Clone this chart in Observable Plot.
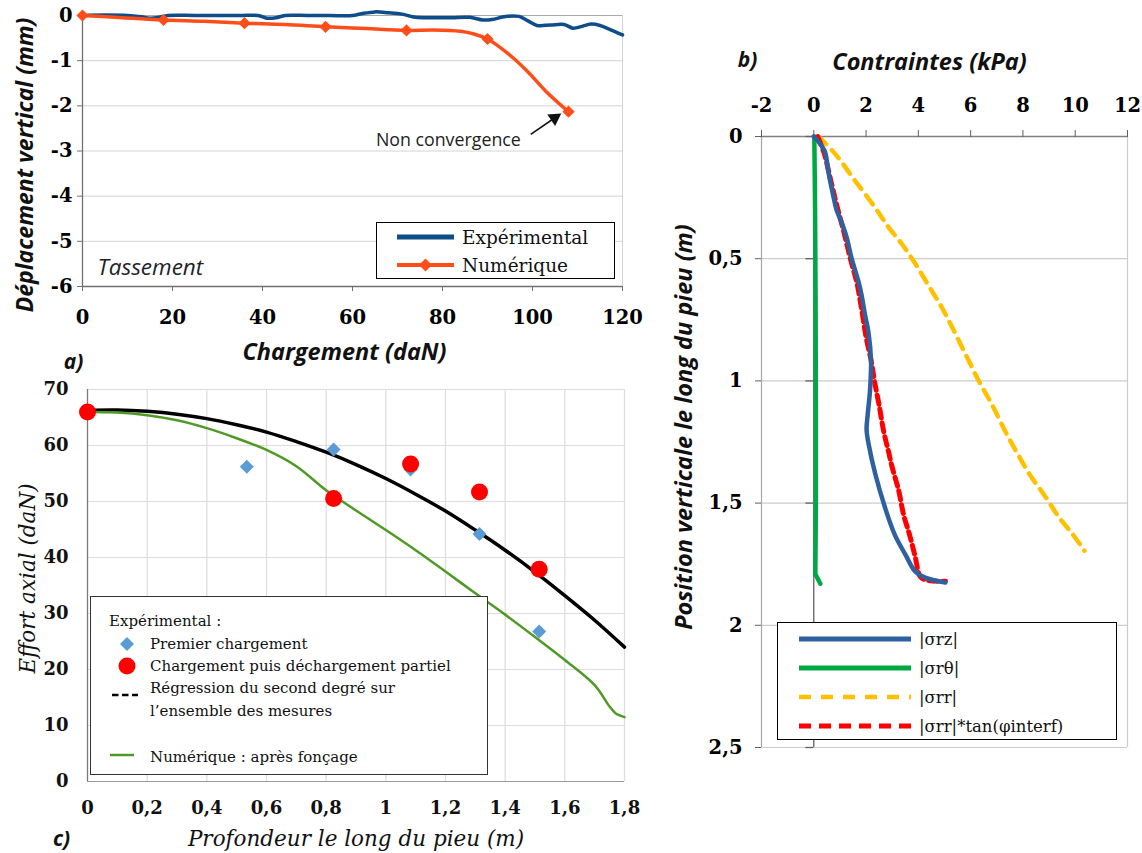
<!DOCTYPE html>
<html><head><meta charset="utf-8">
<script src="https://cdn.jsdelivr.net/npm/d3@7"></script>
<script src="https://cdn.jsdelivr.net/npm/@observablehq/plot@0.6"></script>
<style>
body{margin:0;background:#fff;}
#wrap{position:relative;width:1142px;height:853px;overflow:hidden;background:#fff;}
.lg{position:absolute;box-sizing:border-box;background:#fff;}
.lt{position:absolute;white-space:nowrap;line-height:1;transform:translateY(-50%);color:#111;}
.sw{position:absolute;overflow:visible;}
</style></head><body><div id="wrap"></div>
<script>
// ---------- Panel a : Tassement ----------
const aTicksX = [0, 20, 40, 60, 80, 100, 120];
const aTickLabelsX = ["0", "20", "40", "60", "80", "100", "120"];
const aTicksY = [0, -1, -2, -3, -4, -5, -6];
const aTickLabelsY = ["0", "-1", "-2", "-3", "-4", "-5", "-6"];
const expLoad = [0, 5, 10, 13, 15, 17, 19, 25, 30, 35, 39, 41, 43, 45, 50, 55, 60, 62, 65, 68, 71, 74, 78, 82, 86, 89, 91, 94, 97, 99, 101, 104, 107, 109, 111, 113, 115, 117, 120];
const expDisp = [0, 0.01, 0, -0.03, -0.06, -0.04, 0, 0, 0, 0, 0, -0.06, -0.05, 0, 0, 0, 0, 0.04, 0.08, 0.06, 0.03, -0.04, -0.05, -0.05, -0.04, -0.1, -0.09, -0.02, -0.02, -0.12, -0.22, -0.21, -0.2, -0.28, -0.24, -0.19, -0.22, -0.3, -0.43];
const numLoad = [0, 9, 18, 27, 36, 45, 54, 63, 72, 78, 84, 87, 90, 95, 99, 103, 108];
const numDisp = [0, -0.05, -0.1, -0.13, -0.17, -0.2, -0.25, -0.29, -0.33, -0.32, -0.35, -0.41, -0.52, -0.88, -1.25, -1.68, -2.13];
const numMarkLoad = [0, 18, 36, 54, 72, 90, 108];
const numMarkDisp = [0, -0.1, -0.17, -0.25, -0.33, -0.52, -2.13];
const aSeriesNames = ["Expérimental", "Numérique"];
const aNote = {x: 81.3, y: -2.77, text: "Non convergence", x1: 99.6, y1: -2.63, x2: 104.9, y2: -2.27};

// ---------- Panel c : Effort axial ----------
const cTicksX = [0, 0.2, 0.4, 0.6, 0.8, 1, 1.2, 1.4, 1.6, 1.8];
const cTickLabelsX = ["0", "0,2", "0,4", "0,6", "0,8", "1", "1,2", "1,4", "1,6", "1,8"];
const cTicksY = [0, 10, 20, 30, 40, 50, 60, 70];
const cTickLabelsY = ["0", "10", "20", "30", "40", "50", "60", "70"];
const firstDepth = [0, 0.534, 0.825, 1.083, 1.314, 1.514];
const firstForce = [66, 56.2, 59.3, 55.7, 44.2, 26.8];
const unloadDepth = [0, 0.825, 1.083, 1.314, 1.514];
const unloadForce = [66, 50.55, 56.7, 51.7, 37.9];
const regDepth = [0, 0.1, 0.2, 0.3, 0.4, 0.5, 0.6, 0.7, 0.8, 0.9, 1.0, 1.1, 1.2, 1.3, 1.4, 1.5, 1.6, 1.7, 1.8];
const regForce = [66.3, 66.35, 66.1, 65.6, 64.8, 63.7, 62.4, 60.7, 58.8, 56.6, 54.1, 51.3, 48.3, 44.9, 41.3, 37.4, 33.2, 28.8, 24.0];
const numDepth = [0, 0.1, 0.2, 0.3, 0.4, 0.5, 0.6, 0.7, 0.8, 0.9, 1.0, 1.1, 1.2, 1.3, 1.4, 1.5, 1.6, 1.7, 1.75, 1.77, 1.8];
const numForce = [66, 65.9, 65.4, 64.5, 63.1, 61.3, 59.2, 56.3, 52.0, 48.4, 44.9, 41.3, 37.5, 33.6, 29.8, 25.8, 21.7, 17.2, 13.4, 12.2, 11.5];
const cLegendLabels = ["Expérimental :", "Premier chargement", "Chargement puis déchargement partiel", "Régression du second degré sur", "l’ensemble des mesures", "Numérique : après fonçage"];

// ---------- Panel b : Contraintes ----------
const bTicksX = [-2, 0, 2, 4, 6, 8, 10, 12];
const bTickLabelsX = ["-2", "0", "2", "4", "6", "8", "10", "12"];
const bTicksY = [0, 0.5, 1, 1.5, 2, 2.5];
const bTickLabelsY = ["0", "0,5", "1", "1,5", "2", "2,5"];
const rzStress = [0, 0.17, 0.42, 0.55, 0.74, 0.87, 1.06, 1.25, 1.45, 1.70, 1.83, 1.96, 2.09, 2.19, 2.15, 2.06, 2.02, 2.10, 2.35, 2.73, 3.10, 3.50, 3.88, 4.26, 5.03];
const rzDepth = [0, 0.02, 0.06, 0.14, 0.24, 0.30, 0.35, 0.41, 0.50, 0.59, 0.65, 0.73, 0.80, 0.92, 1.04, 1.14, 1.20, 1.26, 1.38, 1.52, 1.63, 1.71, 1.78, 1.805, 1.825];
const rtStress = [0.02, 0.05, 0.07, 0.08, 0.08, 0.06, 0.25];
const rtDepth = [0, 0.3, 0.7, 1.1, 1.5, 1.79, 1.83];
const rrStress = [0.17, 0.81, 1.57, 2.34, 2.85, 3.37, 3.88, 4.39, 4.90, 5.29, 5.80, 6.31, 6.83, 7.34, 7.70, 8.24, 8.88, 9.39, 9.90, 10.35];
const rrDepth = [0, 0.07, 0.18, 0.29, 0.37, 0.44, 0.52, 0.61, 0.70, 0.78, 0.89, 1.0, 1.10, 1.21, 1.28, 1.38, 1.477, 1.56, 1.627, 1.695];
const rrTanStress = [0.15, 0.40, 0.65, 0.90, 1.15, 1.40, 1.65, 1.85, 2.0, 2.2, 2.32, 2.5, 2.68, 2.86, 2.99, 3.25, 3.43, 3.69, 3.88, 4.07, 4.3, 5.04];
const rrTanDepth = [0, 0.07, 0.18, 0.29, 0.39, 0.50, 0.60, 0.72, 0.82, 0.92, 1.0, 1.10, 1.21, 1.29, 1.35, 1.45, 1.545, 1.64, 1.72, 1.80, 1.815, 1.82];
const bLegendLabels = ["|σrz|", "|σrθ|", "|σrr|", "|σrr|*tan(φinterf)"];

// ---------- styles ----------
const SERIF = "'DejaVu Serif', 'Liberation Serif', serif";
const SANS = "'Open Sans', Lato, sans-serif";
const C_BLUE_A = "#0f4c8a", C_ORANGE = "#ff4d1a";
const C_DIAM = "#5b9bd5", C_RED = "#ff0000", C_GREEN_C = "#4f9a26";
const C_RZ = "#2f609f", C_RT = "#00a844", C_RR = "#ffc000", C_RRT = "#ff0000";

const zip = (xs, ys) => xs.map((x, i) => ({x, y: ys[i]}));
const fmt = (ticks, labels) => d => labels[ticks.indexOf(d)];
const wrap = document.getElementById("wrap");
function place(el, left, top) { el.style.position = "absolute"; el.style.left = left + "px"; el.style.top = top + "px"; wrap.appendChild(el); }
const titleBI = {textAnchor: "middle", lineAnchor: "middle", fontFamily: SANS, fontStyle: "italic", fontWeight: "bold", fill: "#111"};

// ---------- Plot a ----------
const plotA = Plot.plot({
  width: 640, height: 375, marginLeft: 82, marginRight: 18, marginTop: 15, marginBottom: 89,
  x: {domain: [0, 120]}, y: {domain: [-6, 0]},
  style: {background: "transparent", overflow: "visible"},
  marks: [
    Plot.ruleY(aTicksY.filter(d => d > -6 && d < 0), {stroke: "#d4d4d4"}),
    Plot.ruleY([0], {stroke: "#a8a8a8"}),
    Plot.ruleX([120], {stroke: "#d4d4d4"}),
    Plot.ruleX([0], {stroke: "#707070", strokeWidth: 1.3}),
    Plot.ruleY([-6], {stroke: "#707070", strokeWidth: 1.3}),
    Plot.axisX({ticks: aTicksX, tickFormat: fmt(aTicksX, aTickLabelsX), tickSize: 5, tickPadding: 19, stroke: "#707070", fill: "#000", fontSize: 19.5, fontFamily: SERIF, fontWeight: "bold", label: null}),
    Plot.axisY({ticks: aTicksY, tickFormat: fmt(aTicksY, aTickLabelsY), tickSize: 5, tickPadding: 5, stroke: "#707070", fill: "#000", fontSize: 19.5, fontFamily: SERIF, fontWeight: "bold", label: null}),
    Plot.line(zip(expLoad, expDisp), {x: "x", y: "y", stroke: C_BLUE_A, strokeWidth: 3.5, curve: "catmull-rom"}),
    Plot.line(zip(numLoad, numDisp), {x: "x", y: "y", stroke: C_ORANGE, strokeWidth: 3.5, curve: "catmull-rom"}),
    Plot.dot(zip(numMarkLoad, numMarkDisp), {x: "x", y: "y", symbol: "diamond2", r: 5.5, fill: C_ORANGE, stroke: "none"}),
    Plot.link([aNote], {x1: "x1", y1: "y1", x2: "x2", y2: "y2", stroke: "#111", strokeWidth: 1.6}),
    Plot.dot([aNote], {x: "x2", y: "y2", symbol: "triangle", r: 5.2, rotate: 56, fill: "#111", stroke: "none"}),
    Plot.text([aNote], {x: "x", y: "y", text: "text", fontSize: 17.8, fontFamily: SANS, fill: "#222"}),
    Plot.text(["Tassement"], {frameAnchor: "bottom-left", dx: 15, dy: -19, textAnchor: "start", lineAnchor: "middle", fontSize: 22.5, fontFamily: SANS, fontStyle: "italic", fill: "#222"}),
    Plot.text(["Déplacement vertical (mm)"], {...titleBI, frameAnchor: "left", rotate: -90, dx: -57, dy: 14, fontSize: 23}),
    Plot.text(["Chargement (daN)"], {...titleBI, frameAnchor: "bottom", dx: -8, dy: 66, fontSize: 23.5}),
    Plot.text(["a)"], {...titleBI, frameAnchor: "bottom-left", dx: -9, dy: 76, fontSize: 21})
  ]
});
place(plotA, 0, 0);

// ---------- Plot c ----------
const plotC = Plot.plot({
  width: 640, height: 478, marginLeft: 87, marginRight: 16, marginTop: 14, marginBottom: 72,
  x: {domain: [0, 1.8]}, y: {domain: [0, 70]},
  style: {background: "transparent", overflow: "visible"},
  marks: [
    Plot.ruleX(cTicksX.slice(1), {stroke: "#dcdcdc", strokeWidth: 1.2}),
    Plot.ruleY(cTicksY.slice(1), {stroke: "#dcdcdc", strokeWidth: 1.2}),
    Plot.ruleX([0], {stroke: "#7a7a7a", strokeWidth: 1.3}),
    Plot.ruleY([0], {stroke: "#9a9a9a", strokeWidth: 1.2}),
    Plot.axisX({ticks: cTicksX, tickFormat: fmt(cTicksX, cTickLabelsX), tickSize: 0, tickPadding: 20, fill: "#111", fontSize: 18, fontFamily: SERIF, fontWeight: "bold", label: null}),
    Plot.axisY({ticks: cTicksY, tickFormat: fmt(cTicksY, cTickLabelsY), tickSize: 0, tickPadding: 19, fill: "#111", fontSize: 18, fontFamily: SERIF, fontWeight: "bold", label: null}),
    Plot.line(zip(regDepth, regForce), {x: "x", y: "y", stroke: "#000", strokeWidth: 3.5, curve: "catmull-rom"}),
    Plot.line(zip(numDepth, numForce), {x: "x", y: "y", stroke: C_GREEN_C, strokeWidth: 2.5, curve: "catmull-rom"}),
    Plot.dot(zip(firstDepth, firstForce), {x: "x", y: "y", symbol: "diamond2", r: 6.3, fill: C_DIAM, stroke: "none"}),
    Plot.dot(zip(unloadDepth, unloadForce), {x: "x", y: "y", r: 8.5, fill: C_RED, stroke: "none"}),
    Plot.text(["Effort axial (daN)"], {frameAnchor: "left", rotate: -90, dx: -59, dy: -7, textAnchor: "middle", lineAnchor: "middle", fontSize: 21.5, fontFamily: SERIF, fontStyle: "italic", fill: "#111"}),
    Plot.text(["Profondeur le long du pieu (m)"], {frameAnchor: "bottom", dx: 0, dy: 58, textAnchor: "middle", lineAnchor: "middle", fontSize: 21.5, fontFamily: SERIF, fontStyle: "italic", fill: "#111"}),
    Plot.text(["c)"], {...titleBI, frameAnchor: "bottom-left", dx: -26, dy: 58, fontSize: 21})
  ]
});
place(plotC, 0, 375);

// ---------- Plot b ----------
const plotB = Plot.plot({
  width: 482, height: 853, marginLeft: 101, marginRight: 15, marginTop: 136, marginBottom: 106,
  x: {domain: [-2, 12]}, y: {domain: [0, 2.5], reverse: true},
  style: {background: "transparent", overflow: "visible"},
  marks: [
    Plot.ruleY(bTicksY.slice(1), {stroke: "#cccccc", strokeWidth: 1.2}),
    Plot.ruleX([12], {stroke: "#cccccc", strokeWidth: 1.2}),
    Plot.ruleX([-2], {stroke: "#a6a6a6", strokeWidth: 1.2}),
    Plot.ruleY([0], {stroke: "#808080", strokeWidth: 1.3}),
    Plot.ruleX([0], {stroke: "#606060", strokeWidth: 1.3}),
    Plot.ruleY(bTicksY, {x1: -0.3, x2: 0, stroke: "#606060", strokeWidth: 1.3}),
    Plot.axisX({anchor: "top", ticks: bTicksX, tickFormat: fmt(bTicksX, bTickLabelsX), tickSize: 7, tickPadding: 18, stroke: "#606060", fill: "#000", fontSize: 19.5, fontFamily: SERIF, fontWeight: "bold", label: null}),
    Plot.axisY({ticks: bTicksY, tickFormat: fmt(bTicksY, bTickLabelsY), tickSize: 6, tickPadding: 13, stroke: "#606060", fill: "#000", fontSize: 19.5, fontFamily: SERIF, fontWeight: "bold", label: null}),
    Plot.line(zip(rtStress, rtDepth), {x: "x", y: "y", stroke: C_RT, strokeWidth: 4.5}),
    Plot.line(zip(rrStress, rrDepth), {x: "x", y: "y", stroke: C_RR, strokeWidth: 4.5, strokeDasharray: "11,8", curve: "catmull-rom"}),
    Plot.line(zip(rrTanStress, rrTanDepth), {x: "x", y: "y", stroke: C_RRT, strokeWidth: 5, strokeDasharray: "9,5", curve: "catmull-rom"}),
    Plot.line(zip(rzStress, rzDepth), {x: "x", y: "y", stroke: C_RZ, strokeWidth: 4.5, curve: "catmull-rom"}),
    Plot.text(["Contraintes (kPa)"], {...titleBI, frameAnchor: "top", dx: -15, dy: -74, fontSize: 23.5}),
    Plot.text(["b)"], {...titleBI, frameAnchor: "top-left", dx: -14, dy: -76, fontSize: 21}),
    Plot.text(["Position verticale le long du pieu (m)"], {...titleBI, frameAnchor: "left", rotate: -90, dx: -77, dy: -15, fontSize: 23.5})
  ]
});
place(plotB, 660, 0);

// ---------- legends ----------
function box(left, top, w, h, border) {
  const d = document.createElement("div"); d.className = "lg";
  d.style.cssText += `left:${left}px;top:${top}px;width:${w}px;height:${h}px;border:${border};`;
  wrap.appendChild(d); return d;
}
function txt(b, x, y, t, font) {
  const d = document.createElement("div"); d.className = "lt"; d.textContent = t;
  d.style.left = x + "px"; d.style.top = y + "px"; d.style.font = font; b.appendChild(d);
}
function sw(b, x, y, w, h, inner) {
  const ns = "http://www.w3.org/2000/svg";
  const s = document.createElementNS(ns, "svg"); s.setAttribute("class", "sw");
  s.setAttribute("width", w); s.setAttribute("height", h);
  s.style.left = x + "px"; s.style.top = (y - h / 2) + "px"; s.innerHTML = inner; b.appendChild(s);
}
// legend a
const la = box(376, 222, 239, 57, "1.5px solid #000");
const fa = `18.5px ${SERIF}`;
sw(la, 20, 14, 57, 10, `<line x1="0" x2="57" y1="5" y2="5" stroke="${C_BLUE_A}" stroke-width="5"/>`);
txt(la, 85, 14, aSeriesNames[0], fa);
sw(la, 20, 42, 57, 14, `<line x1="0" x2="57" y1="7" y2="7" stroke="${C_ORANGE}" stroke-width="4"/><path d="M28.5 0.5 L35 7 L28.5 13.5 L22 7 Z" fill="${C_ORANGE}"/>`);
txt(la, 85, 42, aSeriesNames[1], fa);

// legend c
const lc = box(90, 596, 398, 179, "1.5px solid #333");
const fc = `15px ${SERIF}`;
txt(lc, 18, 24, cLegendLabels[0], fc);
sw(lc, 29, 47, 14, 14, `<path d="M7 0 L14 7 L7 14 L0 7 Z" fill="${C_DIAM}"/>`);
txt(lc, 59, 47, cLegendLabels[1], fc);
sw(lc, 27, 69, 18, 18, `<circle cx="9" cy="9" r="8.5" fill="${C_RED}"/>`);
txt(lc, 59, 69, cLegendLabels[2], fc);
sw(lc, 21, 98, 26, 4, `<line x1="0" x2="26" y1="2" y2="2" stroke="#000" stroke-width="2.6" stroke-dasharray="6.5,3.5"/>`);
txt(lc, 59, 91, cLegendLabels[3], fc);
txt(lc, 59, 114, cLegendLabels[4], fc);
sw(lc, 19, 158, 24, 4, `<line x1="0" x2="24" y1="2" y2="2" stroke="${C_GREEN_C}" stroke-width="2.5"/>`);
txt(lc, 59, 160, cLegendLabels[5], fc);

// legend b
const lb = box(777, 622, 340, 118, "1.5px solid #000");
const fb = `16.5px ${SERIF}`;
const rowsB = [16, 45, 74, 103];
const stylesB = [
  `stroke="${C_RZ}" stroke-width="5"`,
  `stroke="${C_RT}" stroke-width="5"`,
  `stroke="${C_RR}" stroke-width="4.5" stroke-dasharray="12,10"`,
  `stroke="${C_RRT}" stroke-width="5" stroke-dasharray="12,8"`
];
bLegendLabels.forEach((lab, i) => {
  sw(lb, 21, rowsB[i], 112, 8, `<line x1="0" x2="112" y1="4" y2="4" ${stylesB[i]}/>`);
  txt(lb, 141, rowsB[i], lab, fb);
});
</script>
</body></html>
